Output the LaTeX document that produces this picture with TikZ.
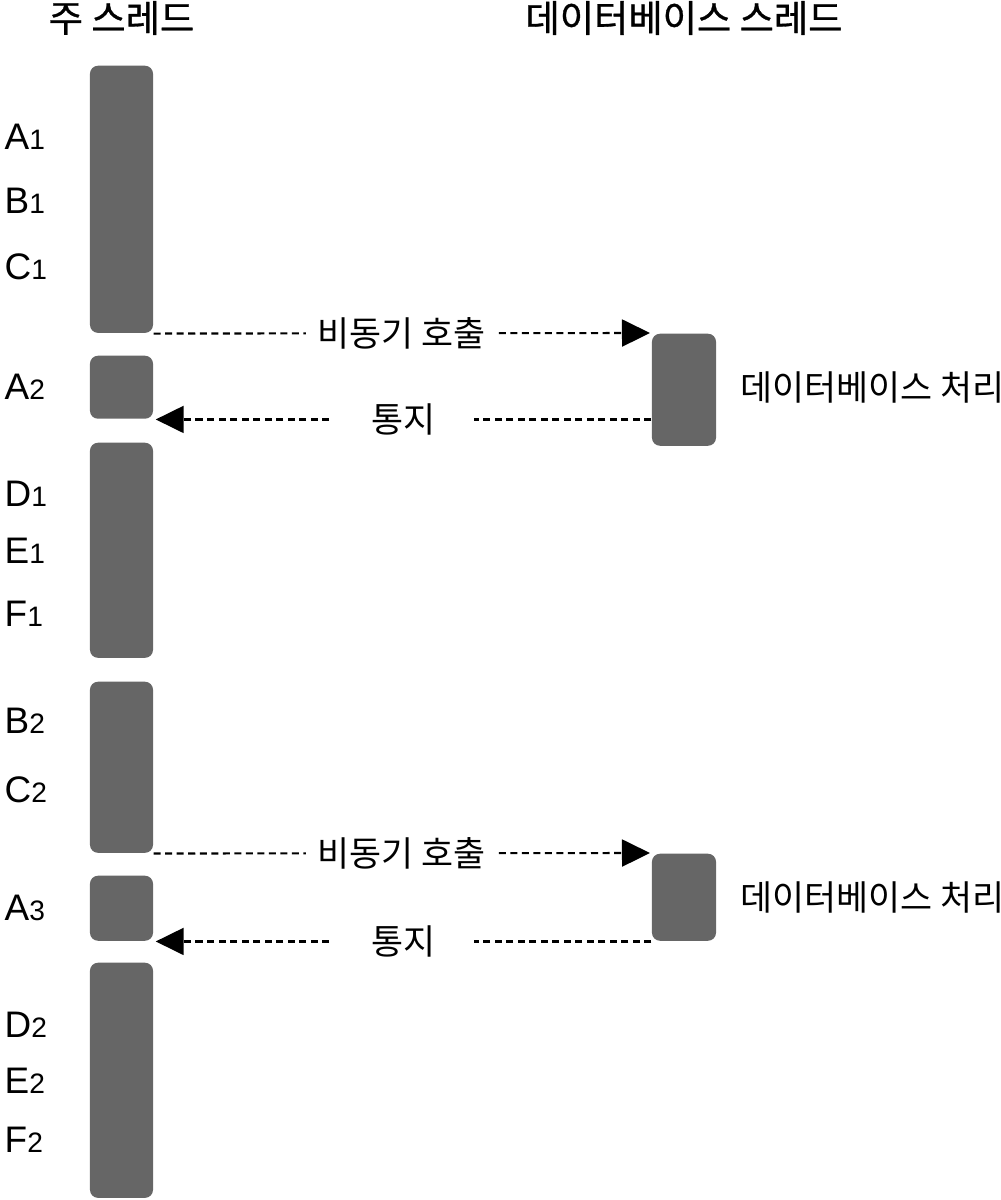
\documentclass[tikz,border=0pt]{standalone}
\usepackage{fontspec}
\setmainfont{Liberation Sans}
\newfontfamily\kofont{Noto Sans CJK KR}
\newfontfamily\koheadfont[FakeBold=0.8]{Noto Sans CJK KR}
\usetikzlibrary{arrows.meta}
\newcommand{\steplbl}[2]{#1{\fontsize{8pt}{8pt}\selectfont #2}}

\begin{document}
\begin{tikzpicture}[x=0.01cm, y=-0.01cm,
    bar/.style={fill=black!60, rounded corners=0.08cm, minimum width=0.63cm, inner sep=0pt, anchor=north},
    dbbox/.style={fill=black!60, rounded corners=0.08cm, minimum width=0.64cm, inner sep=0pt, anchor=north},
    calls/.style={dashed, dash pattern=on 0.07cm off 0.045cm, line width=0.6pt, -{Triangle[length=0.28cm, width=0.27cm]}},
    head/.style={font=\koheadfont\fontsize{10.6pt}{11pt}\selectfont},
    msg/.style={font=\kofont\fontsize{9.9pt}{10pt}\selectfont, fill=white},
    lbl/.style={anchor=west, inner sep=0pt, font=\fontsize{10.5pt}{11pt}\selectfont}]
    \useasboundingbox (0,0) rectangle (1001,1200);
	% main thread
	\node[bar, minimum height=2.67cm] (b1) at (121.5, 65) {};
	\node[bar, minimum height=0.63cm] (b2) at (121.5, 355) {};
	\node[bar, minimum height=2.15cm] (b3) at (121.5, 442) {};
	\node[bar, minimum height=1.71cm] (b4) at (121.5, 681) {};
	\node[bar, minimum height=0.65cm] (b5) at (121.5, 875) {};
	\node[bar, minimum height=2.35cm] (b6) at (121.5, 962) {};
	% database thread
	\node[dbbox, minimum height=1.12cm] (d1) at (684, 333) {};
	\node[dbbox, minimum height=0.87cm] (d2) at (684, 853) {};
	\node[head] (hmain) at (b1.center |- 0, 18) {주 스레드};
	\node[head] (hdb) at (d1.center |- 0, 18) {데이터베이스 스레드};
	\node[msg, fill=none, anchor=west, inner sep=0pt] (p1) at (740, 387) {데이터베이스 처리};
	\node[msg, fill=none, anchor=west, inner sep=0pt] (p2) at (740, 897) {데이터베이스 처리};
	% step labels
	\node[lbl] (a1) at (4, 137) {\steplbl{A}{1}};
	\node[lbl] (b1l) at (4, 201) {\steplbl{B}{1}};
	\node[lbl] (c1) at (4, 267) {\steplbl{C}{1}};
	\node[lbl] (a2) at (4, 387) {\steplbl{A}{2}};
	\node[lbl] (d1l) at (4, 494) {\steplbl{D}{1}};
	\node[lbl] (e1) at (4, 551) {\steplbl{E}{1}};
	\node[lbl] (f1) at (4, 614) {\steplbl{F}{1}};
	\node[lbl] (b2l) at (4, 721) {\steplbl{B}{2}};
	\node[lbl] (c2) at (4, 790) {\steplbl{C}{2}};
	\node[lbl] (a3) at (4, 908) {\steplbl{A}{3}};
	\node[lbl] (d2l) at (4, 1025) {\steplbl{D}{2}};
	\node[lbl] (e2) at (4, 1081) {\steplbl{E}{2}};
	\node[lbl] (f2) at (4, 1140) {\steplbl{F}{2}};
	% calls and notifications
	\draw[calls] (b1.south east) -- (d1.north west -| 650, 0) node[msg, midway, inner xsep=3.5pt] {비동기 호출};
	\draw[calls] (d1.west |- b2.south) -- ([xshift=0.02cm]b2.south east) node[msg, midway, inner xsep=11pt] {통지};
	\draw[calls] (b4.south east) -- (d2.north west -| 650, 0) node[msg, midway, inner xsep=3.5pt] {비동기 호출};
	\draw[calls] (d2.west |- b5.south) -- ([xshift=0.02cm]b5.south east) node[msg, midway, inner xsep=11pt] {통지};
\end{tikzpicture}
\end{document}
